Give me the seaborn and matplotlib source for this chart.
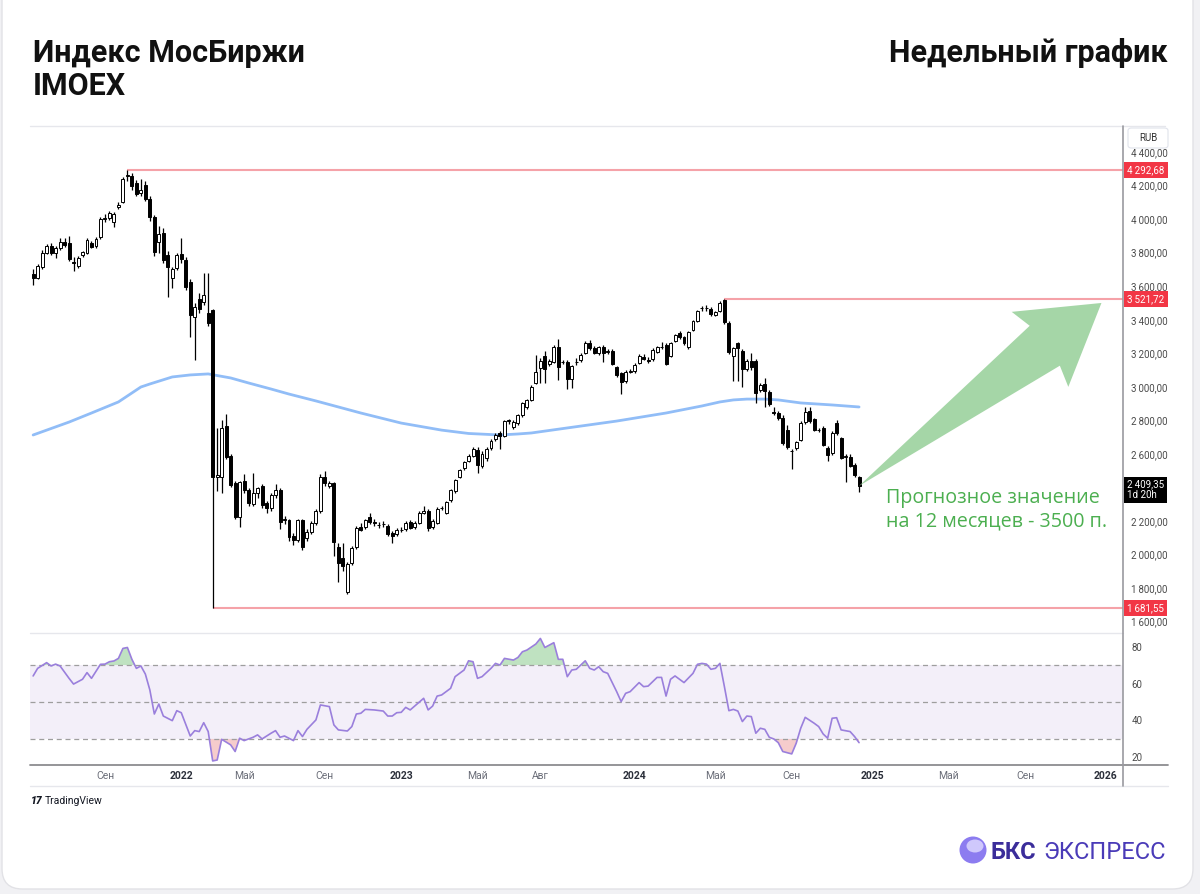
import matplotlib
matplotlib.use("Agg")
import matplotlib.pyplot as plt
from matplotlib.lines import Line2D
from matplotlib.patches import FancyBboxPatch, Polygon, Ellipse
from matplotlib.transforms import blended_transform_factory, offset_copy, IdentityTransform
import numpy as np
import pandas as pd
import seaborn as sns

# --- weekly IMOEX candles, 17 May 2021 .. 16 Dec 2024 ---
opens = [
    3670, 3650, 3715, 3800, 3840, 3795, 3830, 3862, 3855, 3742, 3722, 3786, 3800, 3858, 3842, 3893, 4000,
    4006, 3985, 4072, 4102, 4255, 4257, 4215, 4155, 4203, 4120, 4013, 3863, 3917, 3786, 3649, 3708,
    3790, 3756, 3625, 3416, 3523, 3505, 3440, 3458, 2460, 2463, 2767, 2588, 2427, 2224, 2438, 2385, 2301,
    2367, 2409, 2307, 2277, 2355, 2385, 2206, 2206, 2111, 2087, 2206, 2099, 2135, 2188, 2260, 2463, 2409,
    2427, 2045, 1980, 1775, 1950, 2045, 2164, 2164, 2224, 2194, 2176, 2180, 2170, 2129, 2123,
    2146, 2152, 2194, 2164, 2188, 2250, 2260, 2164, 2188, 2276, 2248, 2325, 2379, 2462, 2516, 2560, 2590,
    2623, 2530, 2576, 2635, 2689, 2725, 2707, 2796, 2760, 2784, 2832, 2880, 2921, 3023, 3112, 3184, 3136,
    3148, 3237, 3148, 3148, 3047, 3146, 3160, 3201, 3261, 3231, 3201, 3237, 3205, 3214, 3118, 3083, 3035, 3090,
    3094, 3142, 3180, 3160, 3166, 3207, 3235, 3249, 3184, 3273, 3321, 3297, 3237, 3339, 3392, 3468, 3470,
    3464, 3428, 3452, 3517, 3380, 3184, 3261, 3214, 3106, 3154, 3154, 2981, 3017, 2969, 2850, 2844, 2814,
    2742, 2620, 2635, 2683, 2790, 2856, 2808, 2743, 2755, 2635, 2605, 2784, 2695, 2582, 2582, 2534, 2462,
]
highs = [
    3700, 3735, 3815, 3850, 3860, 3840, 3890, 3885, 3900, 3775, 3780, 3812, 3885, 3870, 3895, 4010, 4030,
    4050, 4045, 4100, 4250, 4292.68, 4275, 4235, 4240, 4225, 4135, 4025, 3960, 3945, 3810, 3715, 3800,
    3890, 3775, 3640, 3500, 3560, 3680, 3680, 3465, 2755, 2800, 2840, 2600, 2440, 2440, 2480, 2395, 2486,
    2405, 2420, 2320, 2365, 2420, 2395, 2230, 2215, 2130, 2215, 2215, 2150, 2200, 2270, 2480, 2500, 2440,
    2435, 2069, 2069, 1955, 2050, 2170, 2190, 2215, 2250, 2210, 2195, 2200, 2180, 2140, 2160,
    2165, 2200, 2205, 2200, 2260, 2290, 2270, 2210, 2285, 2290, 2320, 2390, 2450, 2510, 2560, 2600, 2640,
    2640, 2615, 2640, 2690, 2725, 2735, 2805, 2810, 2800, 2840, 2910, 2930, 3010, 3190, 3170, 3214, 3165,
    3250, 3285, 3160, 3160, 3130, 3170, 3200, 3275, 3280, 3245, 3245, 3250, 3225, 3225, 3125, 3090, 3100, 3105,
    3140, 3195, 3195, 3175, 3230, 3245, 3265, 3260, 3270, 3315, 3335, 3305, 3335, 3400, 3460, 3480, 3490,
    3475, 3455, 3510, 3521.72, 3390, 3240, 3270, 3225, 3165, 3200, 3165, 3020, 3050, 2980, 2880, 2855, 2830,
    2770, 2630, 2680, 2795, 2880, 2880, 2815, 2755, 2765, 2645, 2735, 2802, 2700, 2600, 2600, 2545, 2470,
]
lows = [
    3610, 3640, 3700, 3790, 3785, 3770, 3815, 3835, 3750, 3690, 3710, 3775, 3790, 3825, 3830, 3880, 3985,
    3995, 3955, 4060, 4095, 4225, 4175, 4140, 4135, 4105, 3990, 3780, 3800, 3740, 3535, 3590, 3695,
    3740, 3575, 3300, 3160, 3440, 3490, 3360, 1681.55, 2380, 2367, 2570, 2405, 2210, 2165, 2370, 2290, 2290,
    2340, 2280, 2250, 2260, 2340, 2150, 2180, 2080, 2060, 2075, 2030, 2080, 2120, 2175, 2250, 2410, 2395,
    1990, 1836, 1900, 1765, 1940, 2035, 2140, 2150, 2185, 2170, 2160, 2165, 2110, 2070, 2110,
    2135, 2140, 2150, 2155, 2180, 2240, 2140, 2150, 2180, 2265, 2240, 2315, 2370, 2455, 2505, 2550, 2580,
    2486, 2515, 2560, 2625, 2680, 2629, 2700, 2780, 2750, 2775, 2820, 2870, 2915, 3015, 3023, 3023, 3125,
    3140, 3040, 3135, 2987, 2995, 3130, 3150, 3195, 3220, 3195, 3190, 3150, 3195, 3130, 3060, 2957, 3025, 3080,
    3085, 3135, 3160, 3145, 3155, 3200, 3225, 3130, 3175, 3265, 3285, 3250, 3225, 3330, 3385, 3455, 3455,
    3425, 3420, 3445, 3375, 3195, 3035, 3035, 2999, 3095, 3100, 2904, 2970, 2880, 2885, 2830, 2805, 2655,
    2630, 2510, 2625, 2675, 2780, 2785, 2735, 2730, 2645, 2560, 2595, 2715, 2570, 2433, 2520, 2465, 2373,
]
closes = [
    3650, 3722, 3800, 3838, 3800, 3830, 3862, 3845, 3762, 3738, 3768, 3803, 3875, 3835, 3882, 4000, 4005,
    4036, 4030, 4084, 4239, 4262, 4197, 4150, 4175, 4120, 4013, 3804, 3911, 3756, 3714, 3702, 3786,
    3760, 3595, 3428, 3475, 3464, 3547, 3380, 2463, 2475, 2755, 2582, 2415, 2224, 2432, 2385, 2307, 2367,
    2397, 2296, 2277, 2355, 2385, 2194, 2212, 2105, 2087, 2206, 2045, 2135, 2188, 2260, 2463, 2427, 2427,
    2075, 1950, 1932, 1944, 2039, 2158, 2146, 2206, 2194, 2186, 2178, 2184, 2123, 2111, 2147,
    2148, 2188, 2158, 2188, 2248, 2262, 2158, 2200, 2272, 2280, 2313, 2385, 2444, 2504, 2552, 2590, 2630,
    2534, 2600, 2629, 2677, 2713, 2707, 2796, 2800, 2790, 2832, 2903, 2921, 2999, 3088, 3154, 3106, 3154,
    3237, 3118, 3150, 3047, 3124, 3150, 3190, 3261, 3231, 3201, 3237, 3201, 3215, 3136, 3071, 3029, 3088, 3094,
    3130, 3184, 3168, 3154, 3220, 3237, 3240, 3136, 3261, 3309, 3297, 3261, 3327, 3392, 3452, 3472, 3468,
    3434, 3446, 3500, 3386, 3207, 3231, 3231, 3106, 3154, 3118, 2963, 3011, 2975, 2897, 2844, 2814, 2665,
    2641, 2617, 2671, 2784, 2850, 2796, 2743, 2745, 2653, 2594, 2725, 2725, 2576, 2585, 2528, 2474, 2409.35,
]

# moving average (blue line): bar index / value
ma_idx = [0, 8, 13, 19, 24, 26, 31, 35, 39, 44, 48, 53, 57, 63, 73, 82, 91, 97, 104, 108, 111, 119, 130,
          141, 149, 153, 156, 159, 163, 166, 171, 178, 184]
ma_val = [2713, 2790, 2844, 2910, 2999, 3017, 3059, 3071, 3077, 3053, 3023, 2987, 2957, 2916, 2844, 2784,
          2742, 2722, 2713, 2719, 2725, 2755, 2796, 2844, 2886, 2910, 2922, 2927, 2927, 2922, 2904, 2892, 2880]

# RSI line vertices: bar index / value
rsi_idx = [0, 1, 3, 4, 5, 6, 8, 9, 11, 12, 13, 15, 16, 17, 18, 19, 20, 21, 22, 23, 24, 25, 26, 27, 28, 29,
           31, 32, 33, 34, 35, 36, 37, 38, 39, 40, 41, 42, 44, 45, 46, 47, 49, 50, 51, 53, 54, 55, 56, 58,
           59, 60, 61, 63, 64, 66, 67, 68, 70, 71, 72, 73, 74, 76, 78, 79, 80, 81, 82, 83, 84, 85, 87, 88,
           89, 90, 91, 93, 94, 96, 97, 98, 99, 100, 102, 103, 104, 105, 107, 108, 109, 110, 112, 113, 114,
           116, 117, 118, 119, 120, 121, 123, 124, 125, 126, 127, 128, 130, 131, 132, 133, 135, 136, 137,
           139, 140, 141, 142, 143, 145, 147, 148, 149, 150, 151, 152, 153, 154, 155, 156, 157, 158, 159,
           160, 161, 162, 163, 164, 165, 166, 167, 169, 170, 171, 172, 174, 175, 176, 177, 178, 179, 180,
           182, 183, 184]
rsi_val = [64.1, 68.2, 71.3, 69.5, 70.5, 69.5, 62.8, 59.7, 62.3, 65.9, 62.8, 70.4, 70.5, 71.8, 72.2, 73.6,
           79.0, 79.5, 73.1, 68.2, 69.5, 65.1, 56.5, 43.5, 48.9, 42.4, 39.9, 45.3, 44.2, 37.9, 31.6, 34.5,
           34.0, 38.8, 34.0, 18.1, 18.6, 29.8, 26.8, 23.2, 30.4, 29.1, 30.9, 32.2, 30.0, 33.1, 34.5, 30.9,
           31.6, 29.1, 34.5, 31.3, 35.2, 40.3, 48.4, 47.5, 37.6, 34.9, 34.3, 36.7, 43.5, 43.9, 46.0, 45.7,
           45.1, 42.4, 42.4, 44.2, 44.4, 47.1, 45.7, 47.8, 52.0, 45.7, 47.8, 53.2, 53.8, 57.4, 63.7, 67.3,
           72.3, 71.8, 62.8, 63.7, 68.2, 70.9, 70.0, 73.6, 72.7, 74.1, 77.2, 78.1, 81.4, 84.4, 79.5, 82.1,
           73.1, 73.1, 63.7, 67.3, 67.7, 72.3, 68.2, 67.3, 69.1, 66.4, 65.5, 55.6, 50.2, 54.7, 55.6, 60.5,
           58.3, 58.6, 63.3, 63.3, 53.2, 62.3, 64.1, 60.5, 65.5, 70.4, 70.9, 70.5, 67.7, 68.2, 70.9, 58.3,
           45.3, 46.0, 45.1, 39.4, 42.4, 42.1, 33.1, 35.8, 35.2, 30.9, 30.0, 28.0, 23.2, 21.9, 27.7, 35.8,
           41.7, 38.5, 36.7, 32.7, 30.4, 41.2, 41.5, 34.9, 34.0, 31.3, 28.0]

levels = [4292.68, 3521.72, 1681.55]
forecast_value = 3500
forecast_weeks = 54

# calendar: weekly bars, MOEX was closed for three weeks in 2022
first_week = "2021-05-17"
closed_weeks = ["2022-02-28", "2022-03-07", "2022-03-14"]
tick_months = [(2021, 9), (2022, 1), (2022, 5), (2022, 9), (2023, 1), (2023, 5), (2023, 8),
               (2024, 1), (2024, 5), (2024, 9), (2025, 1), (2025, 5), (2025, 9), (2026, 1)]
tick_labels = ["Сен", "2022", "Май", "Сен", "2023", "Май", "Авг",
               "2024", "Май", "Сен", "2025", "Май", "Сен", "2026"]
# 2400 sits under the last-price tag, so it is left out
price_ticks = [1600, 1800, 2000, 2200, 2600, 2800, 3000, 3200, 3400, 3600, 3800, 4000, 4200, 4400]
rsi_ticks = [20, 40, 60, 80]

W, H = 1200, 894


def fx(x):
    return x / W


def fy(y):
    return 1 - y / H


def rub(v):
    s = f"{v:,.2f}"
    return s.replace(",", "\u2009").replace(".", ",")


sns.set_theme(style="white")
plt.rcParams["font.family"] = ["Roboto", "DejaVu Sans"]

opens, highs, lows, closes = map(np.array, (opens, highs, lows, closes))
idx = np.arange(len(closes))

weeks = pd.date_range(first_week, "2026-06-01", freq="W-MON")
weeks = weeks[~weeks.isin(pd.to_datetime(closed_weeks))]
tick_pos = [int(np.argmax((weeks.year == y) & (weeks.month == m))) for y, m in tick_months]

fig = plt.figure(figsize=(W / 100, H / 100), dpi=100, facecolor="#f1f1f4")

# white card
card = FancyBboxPatch((fx(2), fy(889)), fx(1193) - fx(2), 1.2, transform=fig.transFigure,
                      boxstyle="round,pad=0,rounding_size=0.017", mutation_aspect=W / H,
                      fc="white", ec="#e2e2e6", lw=1.0, zorder=-5)
fig.patches.append(card)

ax = fig.add_axes([fx(30), fy(632), fx(1123) - fx(30), fy(126) - fy(632)])
ax2 = fig.add_axes([fx(30), fy(765), fx(1123) - fx(30), fy(634) - fy(765)], sharex=ax)
for a in (ax, ax2):
    a.set_facecolor("none")
    for sp in a.spines.values():
        sp.set_visible(False)

xmax = 242.8
ax.set_xlim(-0.7, xmax)
ax.set_ylim(1538.5, 4555)

# level lines
for lvl in levels:
    hit = np.where((np.abs(highs - lvl) < 0.01) | (np.abs(lows - lvl) < 0.01))[0][0]
    ax.hlines(lvl, hit, xmax, color="#f5a2a8", lw=1.5, zorder=1)

# moving average
sns.lineplot(x=ma_idx, y=ma_val, ax=ax, color="#91bdf7", lw=2.0, zorder=1.5)

# candles
up = closes >= opens
ax.vlines(idx, lows, highs, color="black", lw=0.9, zorder=2)
ax.bar(idx, np.maximum(np.abs(closes - opens), 2), bottom=np.minimum(opens, closes), width=0.66,
       color=np.where(up, "white", "black"), edgecolor="black", linewidth=0.7, zorder=3)

# forecast arrow
tail = ax.transData.transform((idx[-1], closes[-1]))
tip = ax.transData.transform((idx[-1] + forecast_weeks, forecast_value))
u = (tip - tail) / np.hypot(*(tip - tail))
n = np.array([-u[1], u[0]])
pts = [tail, tip - 71 * u + 25 * n, tip - 77 * u + 47 * n, tip, tip - 77 * u - 47 * n, tip - 71 * u - 25 * n]
fig.patches.append(Polygon(pts, closed=True, transform=IdentityTransform(), fc="#a5d6a7", ec="none", zorder=1))

green = dict(color="#4caf50", fontsize=14.2, va="baseline", family=["Open Sans", "DejaVu Sans"])
fig.text(fx(886), fy(503), "Прогнозное значение", **green)
fig.text(fx(886), fy(526), "на 12 месяцев - 3500 п.", **green)

# price scale
ax.yaxis.tick_right()
ax.set_yticks(price_ticks)
ax.set_yticklabels([rub(v) for v in price_ticks])
ax.tick_params(axis="y", length=0, pad=6, labelsize=7, labelcolor="#4a4a4a")
ax.tick_params(axis="x", bottom=False, labelbottom=False)
ax.set_xlabel("")
ax.set_ylabel("")

trans = blended_transform_factory(ax.transAxes, ax.transData)
for lvl in levels:
    ax.text(1.004, lvl, rub(lvl), transform=trans, ha="left", va="center", color="white", fontsize=7,
            zorder=10, bbox=dict(boxstyle="square,pad=0.3", fc="#f23645", ec="none"))
ax.text(1.004, closes[-1], rub(closes[-1]) + "\n1d 20h", transform=offset_copy(trans, fig=fig, y=-4, units="dots"),
        ha="left", va="center", color="white", fontsize=7, linespacing=1.1, zorder=10,
        bbox=dict(boxstyle="square,pad=0.3", fc="black", ec="none"))

# RSI panel
rsi_idx_a = np.array(rsi_idx)
rsi_val_a = np.array(rsi_val)
ax2.axhspan(30, 70, color="#7e57c2", alpha=0.09, lw=0)
for lv in (70, 50, 30):
    ax2.axhline(lv, color="#9e9e9e", lw=0.9, ls=(0, (4, 3)))
ax2.fill_between(rsi_idx_a, rsi_val_a, 70, where=rsi_val_a > 70, interpolate=True, color="#81c784", alpha=0.5, lw=0)
ax2.fill_between(rsi_idx_a, rsi_val_a, 30, where=rsi_val_a < 30, interpolate=True, color="#ef9a9a", alpha=0.5, lw=0)
sns.lineplot(x=rsi_idx_a, y=rsi_val_a, ax=ax2, color="#9a7fdc", lw=1.2)
ax2.set_ylim(15.9, 86.8)
ax2.yaxis.tick_right()
ax2.set_yticks(rsi_ticks)
ax2.tick_params(axis="y", length=0, pad=6, labelsize=7, labelcolor="#4a4a4a")
ax2.set_xticks(tick_pos)
ax2.set_xticklabels(tick_labels)
ax2.tick_params(axis="x", length=0, pad=4, labelsize=7.5)
for t in ax2.get_xticklabels():
    if t.get_text().isdigit():
        t.set_fontweight("bold")
        t.set_color("#2a2e39")
    else:
        t.set_color("#6a6d78")
ax2.set_xlabel("")
ax2.set_ylabel("")

# frame lines
for (x0, x1, y0, y1, c, lw) in [(30, 1165, 126, 126, "#e6e7ec", 1.0), (30, 1123, 633, 633, "#e6e7ec", 1.0),
                                (30, 1168, 765, 765, "#8c8c90", 1.3), (30, 1168, 786, 786, "#e6e7ec", 1.0),
                                (1123, 1123, 126, 786, "#9a9aa0", 1.2)]:
    fig.add_artist(Line2D([fx(x0), fx(x1)], [fy(y0), fy(y1)], transform=fig.transFigure, color=c, lw=lw, zorder=4))

# RUB box
fig.patches.append(FancyBboxPatch((fx(1128), fy(148)), fx(40), 20 / H, transform=fig.transFigure,
                                  boxstyle="round,pad=0,rounding_size=0.003", fc="white", ec="#e0e3eb", lw=0.8, zorder=6))
fig.text(fx(1148), fy(138), "RUB", ha="center", va="center", fontsize=7, color="#333333", zorder=7)

# titles
fig.text(fx(33), fy(62), "Индекс МосБиржи", fontsize=22, fontweight="bold", color="#111111", va="baseline")
fig.text(fx(33), fy(95), "IMOEX", fontsize=22, fontweight="bold", color="#111111", va="baseline")
fig.text(fx(1168), fy(62), "Недельный график", fontsize=22, fontweight="bold", color="#111111",
         va="baseline", ha="right")

# TradingView mark
fig.text(fx(31), fy(804), "17", fontsize=7.5, fontweight="black", color="#131722", va="baseline", style="italic")
fig.text(fx(45), fy(804), "TradingView", fontsize=7.5, color="#131722", va="baseline")

# BKS logo: sphere with a light highlight
fig.patches.append(Ellipse((fx(973), fy(850)), fx(27), 27 / H, transform=fig.transFigure, fc="#8c7cf0",
                           ec="none", zorder=6))
fig.patches.append(Ellipse((fx(975), fy(846)), fx(17), 13 / H, angle=0, transform=fig.transFigure, fc="#dcd6ff",
                           ec="none", alpha=0.85, zorder=7))
fig.text(fx(990), fy(859), "БКС", fontsize=17, fontweight="bold", color="#3b2d9a", va="baseline")
fig.text(fx(1043), fy(859), "ЭКСПРЕСС", fontsize=17, fontweight="normal", color="#4a3bb8", va="baseline")

fig.savefig("out.png", dpi=100, facecolor=fig.get_facecolor())
